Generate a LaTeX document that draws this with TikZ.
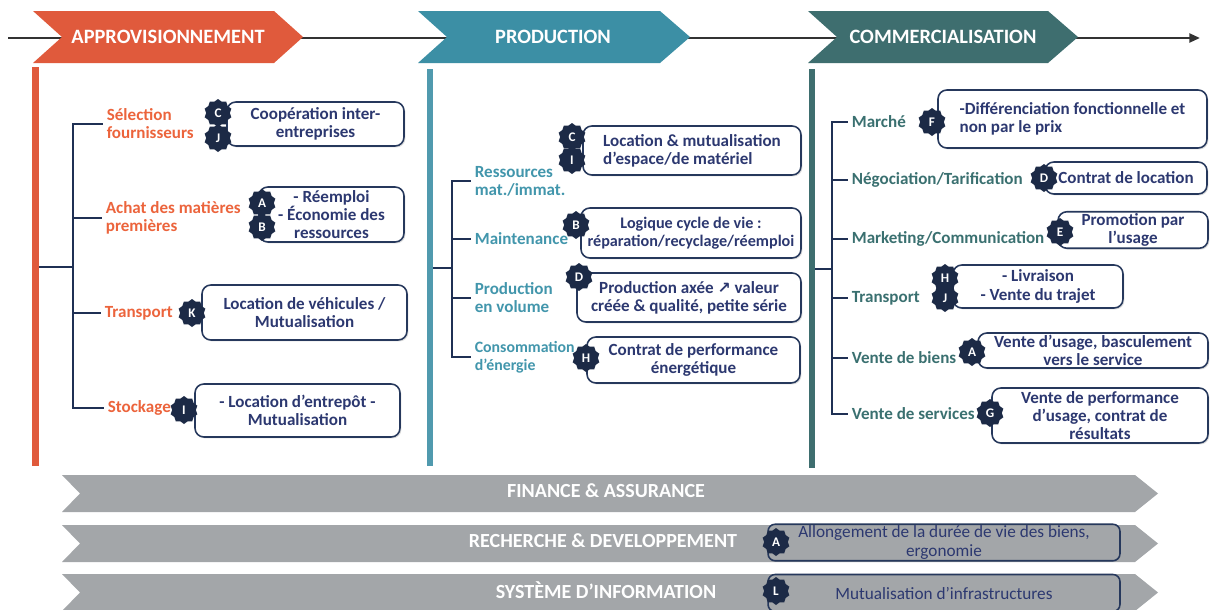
\documentclass[tikz,border=0pt]{standalone}
\usepackage{fontspec}
\setmainfont{Carlito}
\newfontfamily\symfont{DejaVu Sans}
\usetikzlibrary{shapes.geometric,arrows.meta,shadows}

\definecolor{approOrange}{RGB}{224,90,60}
\definecolor{approText}{RGB}{236,100,60}
\definecolor{prodTeal}{RGB}{60,143,165}
\definecolor{prodText}{RGB}{66,150,172}
\definecolor{commTeal}{RGB}{62,110,111}
\definecolor{commText}{RGB}{58,112,112}
\definecolor{treeNavy}{RGB}{31,48,84}
\definecolor{boxBorder}{RGB}{38,56,92}
\definecolor{boxText}{RGB}{44,56,112}
\definecolor{badgeNavy}{RGB}{28,42,70}
\definecolor{bandGray}{RGB}{163,166,169}
\definecolor{lineGray}{RGB}{50,50,50}

\begin{document}
\begin{tikzpicture}[
    x=0.02cm, y=-0.02cm,
    every node/.style={align=center, font=\bfseries\fontsize{9.7}{10.3}\selectfont},
    phase/.style={text=white, font=\bfseries\fontsize{11.6}{12}\selectfont},
    band/.style={text=white, font=\bfseries\fontsize{11.4}{12}\selectfont},
    bar/.style={line width=0.13cm},
    tree/.style={draw=treeNavy, line width=1.1pt},
    approLabel/.style={text=approText, anchor=west, align=left, inner sep=2pt},
    prodLabel/.style={text=prodText, anchor=west, align=left, inner sep=2pt},
    commLabel/.style={text=commText, anchor=west, align=left, inner sep=2pt},
    box/.style={rectangle, rounded corners=5pt, draw=boxBorder, line width=0.9pt, fill=white, text=boxText, inner sep=1pt,
        drop shadow={opacity=0.25, shadow xshift=0.8pt, shadow yshift=-0.8pt}},
    bandBox/.style={rectangle, rounded corners=4pt, draw=boxBorder, line width=0.9pt, text=boxText, inner sep=1pt,
        font=\fontsize{9.8}{10.3}\selectfont},
    badge/.style={star, star points=10, star point ratio=1.18, fill=badgeNavy, text=white, minimum size=0.56cm, inner sep=0pt,
        font=\bfseries\fontsize{7.5}{8}\selectfont}
]
\path[use as bounding box, fill=white] (0,0) rectangle (1211,609);

% Process line and phases
\draw[lineGray, line width=1.4pt, -{Triangle[length=6pt,width=5pt]}] (8,38) -- (1200,38);
\fill[approOrange] (33,11) -- (274,11) -- (303,37) -- (274,63) -- (33,63) -- (62,37) -- cycle;
\fill[prodTeal] (418,11) -- (660,11) -- (690,37) -- (660,63) -- (418,63) -- (447,37) -- cycle;
\fill[commTeal] (808,11) -- (1048,11) -- (1078,37) -- (1048,63) -- (808,63) -- (837,37) -- cycle;
\node[phase] (ap) at (168,37) {APPROVISIONNEMENT};
\node[phase] (pr) at (553,37) {PRODUCTION};
\node[phase] (co) at (943,37) {COMMERCIALISATION};

% Bars
\draw[bar, approOrange] (35.5,67) -- (35.5,466);
\draw[bar, prodTeal!90] (430,69) -- (430,466);
\draw[bar, commTeal] (812,69) -- (812,468);

% Labels
\node[approLabel] (a1) at (103,124) {Sélection\\fournisseurs};
\node[approLabel] (a2) at (102,218) {Achat des matières\\premières};
\node[approLabel] (a3) at (101,313) {Transport};
\node[approLabel] (a4) at (104,408) {Stockage};

\node[prodLabel] (p1) at (471,181) {Ressources\\mat./immat.};
\node[prodLabel] (p2) at (471,239) {Maintenance};
\node[prodLabel] (p3) at (471,298) {Production\\en volume};
\node[prodLabel, font=\bfseries\fontsize{9}{10.3}\selectfont] (p4) at (471,357) {Consommation\\d’énergie};

\node[commLabel] (c1) at (848,122) {Marché};
\node[commLabel] (c2) at (848,180) {Négociation/Tarification};
\node[commLabel] (c3) at (848,239) {Marketing/Communication};
\node[commLabel] (c4) at (848,298) {Transport};
\node[commLabel] (c5) at (848,358) {Vente de biens};
\node[commLabel] (c6) at (848,414) {Vente de services};

% Trees
\coordinate (aBar) at (39,267);
\coordinate (aSpine) at (73,267);
\coordinate (pBar) at (433,268);
\coordinate (pSpine) at (452,268);
\coordinate (cBar) at (815,269);
\coordinate (cSpine) at (832,269);
\draw[tree] (aBar) -- (aSpine);
\draw[tree] (aSpine) |- (a1.west);
\draw[tree] (aSpine) |- (a2.west);
\draw[tree] (aSpine) |- (a3.west);
\draw[tree] (aSpine) |- (a4.west);
\draw[tree] (pBar) -- (pSpine);
\draw[tree] (pSpine) |- (p1.west);
\draw[tree] (pSpine) |- (p2.west);
\draw[tree] (pSpine) |- (p3.west);
\draw[tree] (pSpine) |- (p4.west);
\draw[tree] (cBar) -- (cSpine);
\draw[tree] (cSpine) |- (c1.west);
\draw[tree] (cSpine) |- (c2.west);
\draw[tree] (cSpine) |- (c3.west);
\draw[tree] (cSpine) |- (c4.west);
\draw[tree] (cSpine) |- (c5.west);
\draw[tree] (cSpine) |- (c6.west);

% Boxes
\node[box, minimum width=3.54cm, minimum height=0.88cm] (a1b) at (315.5,124) {Coopération inter-\\entreprises};
\node[box, minimum width=2.90cm, minimum height=1.10cm] (a2b) at (331.5,214.5) {- Réemploi\\- Économie des\\ressources};
\node[box, minimum width=4.10cm, minimum height=1.10cm] (a3b) at (304.5,312.5) {Location de véhicules /\\Mutualisation};
\node[box, minimum width=4.10cm, minimum height=1.06cm] (a4b) at (297.5,410.5) {- Location d’entrepôt -\\Mutualisation};

\node[box, align=left, minimum width=4.36cm, minimum height=0.98cm] (p1b) at (692,150.5) {Location \& mutualisation\\d’espace/de matériel};
\node[box, font=\bfseries\fontsize{9.2}{10.3}\selectfont, minimum width=4.40cm, minimum height=1.00cm] (p2b) at (691,233) {Logique cycle de vie :\\réparation/recyclage/réemploi};
\node[box, minimum width=4.48cm, minimum height=0.98cm] (p3b) at (689,297.5) {Production axée {\symfont\fontsize{9}{10}\selectfont ↗} valeur\\créée \& qualité, petite série};
\node[box, minimum width=4.26cm, minimum height=0.92cm] (p4b) at (693.5,360) {Contrat de performance\\énergétique};

\node[box, align=left, minimum width=5.38cm, minimum height=1.16cm] (c1b) at (1072.5,119) {-Différenciation fonctionnelle et\\non par le prix};
\node[box, minimum width=3.24cm, minimum height=0.64cm] (c2b) at (1126,178) {Contrat de location};
\node[box, minimum width=3.00cm, minimum height=0.72cm] (c3b) at (1133,230) {Promotion par\\l’usage};
\node[box, minimum width=3.40cm, minimum height=0.86cm] (c4b) at (1038,286.5) {- Livraison\\- Vente du trajet};
\node[box, minimum width=4.60cm, minimum height=0.70cm] (c5b) at (1093,350.5) {Vente d’usage, basculement\\vers le service};
\node[box, minimum width=4.32cm, minimum height=1.10cm] (c6b) at (1100,415.5) {Vente de performance\\d’usage, contrat de\\résultats};

% Badges
\node[badge] (a1c) at (218,113) {C};
\node[badge] (a1j) at (218,138) {J};
\node[badge] (a2a) at (262,203) {A};
\node[badge] (a2b') at (262,227) {B};
\node[badge] (a3k) at (192,313) {K};
\node[badge] (a4i) at (184,410) {I};

\node[badge] (p1c) at (572,137) {C};
\node[badge] (p1i) at (572,160) {I};
\node[badge] (p2b') at (576,225) {B};
\node[badge] (p3d) at (579,277) {D};
\node[badge] (p4h) at (586,358) {H};

\node[badge] (c1f) at (932,122) {F};
\node[badge] (c2d) at (1044,178) {D};
\node[badge] (c3e) at (1060,232) {E};
\node[badge] (c4h) at (945,278) {H};
\node[badge] (c4j) at (945,298) {J};
\node[badge] (c5a) at (972,352) {A};
\node[badge] (c6g) at (990,413) {G};

% Support bands
\fill[bandGray] (62,475) -- (1135,475) -- (1158,493.5) -- (1135,512) -- (62,512) -- (80,493.5) -- cycle;
\fill[bandGray] (62,525) -- (1135,525) -- (1158,543.5) -- (1135,562) -- (62,562) -- (80,543.5) -- cycle;
\fill[bandGray] (62,574) -- (1135,574) -- (1158,592.5) -- (1135,611) -- (62,611) -- (80,592.5) -- cycle;
\node[band] (s1) at (606,491) {FINANCE \& ASSURANCE};
\node[band] (s2) at (603,541) {RECHERCHE \& DEVELOPPEMENT};
\node[band] (s3) at (606,590) {SYSTÈME D’INFORMATION};
\node[bandBox, minimum width=7.04cm, minimum height=0.70cm] (s2b) at (944,542.5) {Allongement de la durée de vie des biens,\\ergonomie};
\node[bandBox, minimum width=7.04cm, minimum height=0.74cm] (s3b) at (944,593) {Mutualisation d’infrastructures};
\node[badge] (s2a) at (776,542) {A};
\node[badge] (s3l) at (776,591) {L};

\end{tikzpicture}
\end{document}
